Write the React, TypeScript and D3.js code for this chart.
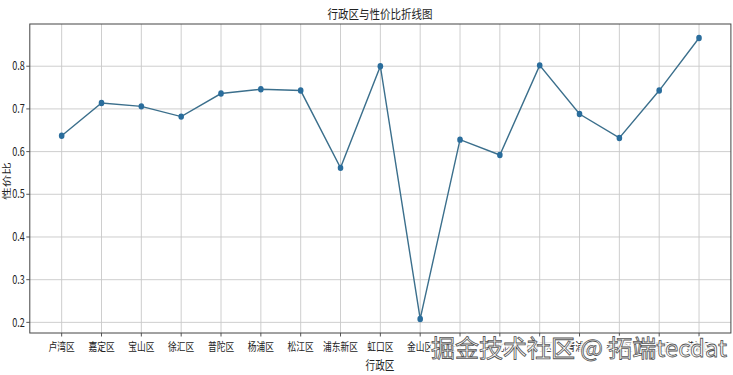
import React from "react";
import * as d3 from "d3";

const districts = ["卢湾区","嘉定区","宝山区","徐汇区","普陀区","杨浦区","松江区","浦东新区","虹口区","金山区","长宁区","闸北区","闵行区","青浦区","奉贤区","静安区","黄浦区"];
const ratios = [0.637,0.714,0.706,0.682,0.736,0.746,0.743,0.562,0.800,0.208,0.628,0.592,0.802,0.688,0.632,0.743,0.866];
const yTicks = [0.2,0.3,0.4,0.5,0.6,0.7,0.8];
const watermark = "掘金技术社区 @ 拓端tecdat";

const W = 733, H = 375;
const left = 29.8, right = 730.9, top = 24, bottom = 333;
const FONT = "'Noto Sans CJK SC', 'DejaVu Sans', sans-serif";
const SX = 0.76;

export default function App() {
  const x = d3.scaleLinear().domain([-0.8, districts.length - 1 + 0.8]).range([left, right]);
  const ext = d3.extent(ratios) as [number, number];
  const m = (ext[1] - ext[0]) * 0.05;
  const y = d3.scaleLinear().domain([ext[0] - m, ext[1] + m]).range([bottom, top]);
  const line = d3.line<number>().x((_, i) => x(i)).y(d => y(d));
  const sq = (tx: number, ty: number, s = SX) => `translate(${tx},${ty}) scale(${s},1)`;
  return (
    <svg width={W} height={H} style={{ position: "absolute", left: 0, top: 0, background: "#fff" }}>
      <rect x={0} y={0} width={W} height={H} fill="#fff" />
      {districts.map((_, i) => (
        <line key={"gx" + i} x1={x(i)} x2={x(i)} y1={top} y2={bottom} stroke="#c8c8c8" strokeWidth={0.9} />
      ))}
      {yTicks.map(t => (
        <line key={"gy" + t} x1={left} x2={right} y1={y(t)} y2={y(t)} stroke="#c8c8c8" strokeWidth={0.9} />
      ))}
      <path d={line(ratios) || ""} fill="none" stroke="#3b6f8c" strokeWidth={1.4} />
      {ratios.map((v, i) => (
        <ellipse key={"p" + i} cx={x(i)} cy={y(v)} rx={2.8} ry={3.2} fill="#2a6d9c" />
      ))}
      <rect x={left} y={top} width={right - left} height={bottom - top} fill="none" stroke="#444" strokeWidth={1} />
      {districts.map((d, i) => (
        <g key={"xt" + i}>
          <line x1={x(i)} x2={x(i)} y1={bottom} y2={bottom + 3.5} stroke="#444" strokeWidth={0.9} />
          <text transform={sq(x(i), bottom + 18)} textAnchor="middle" fontSize={11.5} fontFamily={FONT} fill="#222">{d}</text>
        </g>
      ))}
      {yTicks.map(t => (
        <g key={"yt" + t}>
          <line x1={left - 3.5} x2={left} y1={y(t)} y2={y(t)} stroke="#444" strokeWidth={0.9} />
          <text transform={sq(left - 5, y(t) + 4.2)} textAnchor="end" fontSize={12} fontFamily={FONT} fill="#222">{t.toFixed(1)}</text>
        </g>
      ))}
      <text transform={sq(380, 19, 0.84)} textAnchor="middle" fontSize={12.5} fontFamily={FONT} fill="#222">行政区与性价比折线图</text>
      <text transform={sq(380, 370, 0.8)} textAnchor="middle" fontSize={12} fontFamily={FONT} fill="#222">行政区</text>
      <text transform={`translate(10,181) rotate(-90) scale(1,0.72)`} textAnchor="middle" fontSize={12.5} fontFamily={FONT} fill="#222">性价比</text>
      <text x={579} y={357} textAnchor="middle" fontSize={24} fontFamily={FONT} fill="#fff" stroke="#fff" strokeWidth={5} strokeLinejoin="round" opacity={0.85}>{watermark}</text>
      <text x={579} y={357} textAnchor="middle" fontSize={24} fontFamily={FONT} fill="#fff" stroke="#555" strokeWidth={0.8}>{watermark}</text>
    </svg>
  );
}
